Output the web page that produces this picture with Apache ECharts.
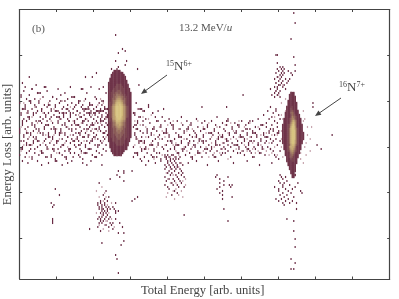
<!DOCTYPE html>
<html><head><meta charset="utf-8">
<script src="https://cdn.jsdelivr.net/npm/echarts@6/dist/echarts.min.js"></script>
<style>html,body{margin:0;padding:0;background:#fff}#c{width:399px;height:299px}</style></head>
<body><div id="c"></div>
<script>
const yTickValues = [20.5, 43.3, 66.1, 88.9, 111.7];
const xLabel = 'Total Energy [arb. units]';
const yLabel = 'Energy Loss [arb. units]';
const palette = ['#6a2c45','#6f3449','#7b4650','#8a5b57','#9a715f','#aa8666','#b99a6d','#c6ab74','#d0b97a','#d8c480'];

// Dense peak 15N: [energy-loss row, first energy channel, intensity digits]
const peak15 = [
[104,69,'11111'],[103,68,'11111111'],[102,67,'1111111111'],[101,67,'11111111111'],[100,66,'111111111111'],
[99,66,'1111111111111'],[98,65,'11111111111111'],[97,65,'111111222211111'],[96,65,'111112222221111'],[95,65,'1111222222221111'],
[94,65,'1112222332221111'],[93,65,'11222333332211111'],[92,65,'11223344433221111'],[91,65,'11223445544322111'],[90,65,'11233456654332111'],
[89,65,'11234567765432111'],[88,65,'12234678876432111'],[87,65,'12245788987542111'],[86,65,'12356899998653211'],[85,65,'12356899998653211'],
[84,65,'12356899998653211'],[83,65,'12356899998653211'],[82,65,'12356899998653211'],[81,65,'12356799997653211'],[80,65,'12256789987652111'],
[79,65,'12245688876542111'],[78,65,'11234577765432111'],[77,65,'11234566765432111'],[76,65,'11233456654332111'],[75,65,'11223345544322111'],
[74,65,'11223344443322111'],[73,65,'11223334433322111'],[72,65,'11222333333222111'],[71,65,'11222233332222111'],[70,65,'1112222332222111'],
[69,65,'1112222222221111'],[68,66,'11112222222111'],[67,66,'11111222221111'],[66,66,'1111111111111'],[65,67,'111111111111'],
[64,67,'1111111111'],[63,68,'11111111'],[62,69,'111111']
];
// Dense peak 16N
const peak16 = [
[93,198,'111'],[92,197,'1111'],[91,197,'11111'],[90,197,'11111'],[89,196,'111111'],[88,196,'1111111'],[87,196,'1111111'],
[86,195,'11112111'],[85,195,'11122111'],[84,195,'111232111'],[83,194,'1111343111'],[82,194,'11112432111'],[81,194,'11112543211'],
[80,193,'1111235532111'],[79,193,'1111236753111'],[78,193,'1111247863111'],[77,192,'111123589631111'],[76,192,'111123699731111'],
[75,192,'111124799742111'],[74,192,'111124799842111'],[73,192,'1111247998421111'],[72,192,'1111247998421111'],[71,192,'1111247998421111'],
[70,192,'1111247998421111'],[69,192,'111124799742111'],[68,192,'111124799742111'],[67,193,'1112368863211'],[66,193,'1112577752111'],
[65,193,'1112467642111'],[64,194,'11235653211'],[63,194,'11124542111'],[62,194,'1112343111'],[61,195,'112332111'],[60,195,'11122211'],
[59,195,'11112211'],[58,196,'1111111'],[57,196,'111111'],[56,197,'11111'],[55,197,'11111'],[54,198,'1111'],[53,198,'111'],[52,199,'111'],[51,199,'11']
];
// Isolated counts above and below the main band: [energy-loss row, energy channels...]
const outerHits = [
[133,200],[128,201],[122,70],[120,198],[115,75],[114,77],[113,72],[112,187,188],[111,200],[109,70,78],[108,188],[107,77,201],[106,72,190,192],[105,67,71,86,188,191,193],[104,189,192,196,201],
[103,56,73,187,191,193,198],[102,190,192,199],[101,7,48,53,188,191],[100,186,190,194,197],[99,189,192,196],[98,2,187,191,195],[97,12,87,189,193,190],[96,186,192,188],[95,183,188,194],[94,187,190],[93,186,189],[92,163,184,188],[91,186,190],
[88,214],[86,133,151,214],[72,228],[67,217],[65,220],
[54,72,82,76],[53,76],[52,71,144,190],[51,73,143,152,191,194],[50,66,146,192],[49,76,149,189,195],[48,146,190,193,203],[47,149,153,155,192,197],[46,146,154,192,201,186],[45,26,144,189,194,199],
[44,148,189,196,205],[43,146,192,198,206],[42,29,148,190,195],[41,86,155,193,200],[40,84,148,187,191,196],[39,82,189,194,199],[38,23,70,192,197,202],[37,25,193],[36,68,24],[35,69,149,202],[34,72],[33,70],
[32,120],[30,24,195],[29,24,152,200],[28,24,73],[27,67],[26,75],[25,51],[24,200],[23,72,76],[20,201],[19,76],[18,60],[17,74],[16,201],
[12,70],[10,198,71],[8,201],[5,198,200],[3,72]
];
// Short horizontal streaks and clumps inside the band: [energy-loss row, energy channels...]
const bandStreaks = [
[96,4,18,19,37,52,61],[95,9,28,45,46,58],[93,14,15,33,49,63],[91,1,24,38,39,55],[89,7,8,30,44,60,61],[87,11,21,22,41,51,52,94],
[85,3,4,16,34,35,47,48,49,62,63,64,88,89],[84,26,27,42,56,57,58,59,60,61,91,101],[83,12,18,31,32,37,50,51,54,55,83,84,97],[81,6,7,23,28,29,44,45,63,64,87,104,118],
[79,2,14,15,36,46,47,59,60,90,100,135,151,152,168],[77,9,19,20,33,41,42,52,53,84,85,111,112,143,159,160,176,177],[75,0,12,25,26,38,49,50,56,86,97,98,122,123,134,149,165,166,183],
[73,5,6,17,29,30,43,44,61,62,93,106,107,128,139,140,157,171,172,188],[71,10,21,22,35,46,47,54,55,85,101,117,118,129,147,148,162,163,179,180],
[69,3,13,14,27,28,39,40,52,88,89,110,111,124,133,134,152,168,169,185],[67,7,8,19,31,43,44,57,58,96,97,114,115,127,143,144,158,159,174],
[65,1,11,24,25,36,37,50,51,91,92,105,119,120,136,137,150,166,167,183],[63,5,16,17,29,40,47,48,85,86,100,116,130,131,148,161,176],
[61,9,20,33,34,44,55,56,97,98,125,126,142,143,170,171],[59,2,13,26,27,38,52,89,103,129,145,166],[58,6,21,35,46,99,123,156,184],[57,16,31,49,60,92,137,175]
];
// Main band, by energy channel: [energy channel, energy-loss rows...]
const bandDark = [
[0,88,74,73,62],[1,92,83,82,69],[2,85,78,77,66,65],[3,94,80,72,71],[4,87,86,75,61],[5,90,79,68,67],[6,84,83,76,70],[7,92,81,80,64],[8,88,73,72,65],[9,95,85,78,60],
[10,83,82,74,69,68],[11,90,77,76,63],[12,86,79,71,70],[13,93,84,66],[14,89,88,75,74,62],[15,81,73,67],[16,85,84,78,64,63],[17,91,80,72],[18,87,76,75,69],[19,82,81,70,61],
[20,94,86,79,66,65],[21,83,77,73,72],[22,89,80,68],[23,85,84,75,62,61],[24,91,78,71,70],[25,82,76,67,64],[26,87,86,74,73,60],[27,90,81,69,68],[28,84,79,78,65],[29,88,83,72,63],
[30,92,80,75,74,66],[31,85,77,70,62],[32,86,82,81,67],[33,89,78,73,72,64],[34,83,76,69,60],[35,90,87,80,71],[36,84,79,75,65,64],[37,82,81,68,63],[38,88,77,74,70],[39,85,83,72,61],
[40,91,86,79,78,67],[41,82,75,73,66],[42,84,80,71,70],[43,89,88,77,69,62],[44,83,76,72,65],[45,86,81,74,68,64],[46,87,85,79,78,60],[47,84,82,75,71],[48,90,80,73,67,66],[49,83,77,69,63],
[50,86,85,79,72,71],[51,88,82,76,68],[52,84,83,81,74,65],[53,87,78,70,69,62],[54,85,80,77,73],[55,83,82,75,67,61],[56,90,86,79,72,64],[57,84,81,78,70,66],[58,88,83,76,75,63],[59,85,80,74,69],
[60,87,82,81,77,68,62],[61,84,79,73,71,65],[62,86,85,80,76,70],[63,83,78,74,67,64],[64,82,81,77,72],
[83,76,66,61],[84,82,72,73,63],[85,88,75,70],[86,79,78,62],[87,85,69,68],[88,81,74,60],[89,71,65,64],[90,84,77,73],[91,69,68,61],[92,80,66],[93,75,74,63],[94,86,71,59],[95,78,67],[96,73,72,62],[97,83,69],[98,76,65,64],[99,81,70],
[100,74,61],[101,79,68,67],[102,72,63],[103,77,76,60],[104,70,66],[105,85,73],[106,79,62,61],[107,75,74,67],[108,69,64],[109,80,72,71],[110,65,78],[111,68,62],[112,76,75],[113,70,66,65],[114,73,60],[115,79,63],
[116,72,71,67],[117,75,61],[118,69,68],[119,77,64],[120,74,73],[121,66,62],[122,70,79],[123,76,68,67],[124,72,63],[125,65,78,77],[126,71,60],[127,74,69],[128,67,66],[129,80,72],[130,76,64,63],[131,70,69],
[132,74,66],[133,78,61],[134,72,71,68],[135,75,65],[136,69,63],[137,77,76],[138,73,67],[139,70,64],[140,79,66,65],[141,72,62],[142,75,74],[143,69,68],[144,81,64],[145,73,71,70],[146,76,67],[147,65,62],
[148,78,72,71],[149,68,66],[150,74,63],[151,77,70,69],[152,80,64,67],[153,73,72],[154,66,61],[155,76,75,68],[156,71,64],[157,78,67],[158,74,73],[159,69,63],[160,76,65,66],[161,72,71],[162,79,68],[163,74,64],
[164,70,69,62],[165,77,66],[166,73,72],[167,68,67,78],[168,75,64],[169,71,63],[170,79,74,73],[171,69,66],[172,76,65],[173,72,71],[174,80,68,67],[175,75,63],[176,70,69],[177,77,66,65],[178,82,73,72],[179,68,62],
[180,78,76,69],[181,84,71,66],[182,80,74,73],[183,86,70,65],[184,81,77,68],[185,83,75,74,64],[186,79,72,62],[187,85,84,70,61],[188,78,76,67],[189,82,74,73,60],[190,80,69,64]
];
const bandPale = [
[1,76,64],[3,88,67],[5,83,74],[7,71,61],[9,81,67],[11,86,70],[13,78,73],[15,90,64],[17,83,68],[19,77,72],[21,88,65],[23,79,69],[25,85,72],[27,75,63],[29,80,70],[31,89,73],[33,83,68],[35,76,66],[37,86,72],[39,79,69],[41,87,70],
[43,82,73],[45,78,63],[47,89,69],[49,80,74],[51,85,72],[53,82,75],[55,78,70],[57,87,74],[59,90,78],[61,88,69],[63,80,71],
[84,79,67],[86,85,70],[88,77,66],[90,81,68],[92,76,71],[94,80,65],[96,82,68],[98,72,60],[100,79,66],[102,76,70],[104,74,62],[106,71,67],[108,77,73],[110,69,61],[112,79,67],[114,68,64],[116,75,62],[118,78,65],
[120,70,66],[122,74,64],[124,77,68],[126,75,66],[128,71,62],[130,79,68],[132,70,63],[134,76,64],[136,73,66],[138,78,61],[140,71,68],[142,66,63],[144,76,70],[146,72,63],[148,68,65],[150,77,70],
[152,73,60],[154,78,70],[156,74,67],[158,70,65],[160,79,71],[162,74,64],[164,67,76],[166,70,64],[168,78,71],[170,68,65],[172,73,63],[174,76,64],[176,72,67],[178,77,65],[180,73,64],[182,68,62],[184,72,63],[186,81,66],[188,72,62],
[191,88,82,74,70,66],[192,97,80,61],[194,90,84],[187,98,94],[189,101,92],[206,74,69],[208,80,66],[210,76,72],[212,70,64],[205,63,60],[209,68,62],[207,84,79,58],[213,76]
];
// Lower groups, by energy channel
const lowerDark = [
[57,38,37,30,26],[58,48,36,35,31,28],[59,39,38,33,30,29,24],[60,37,36,35,34,31,28],[61,42,35,33,32,29],[62,40,38,37,34,30],[63,44,36,33,31,27],[64,39,35,34,32],[65,41,36,30,26],[66,35,31,28],[68,28,25],[70,34,30],
[106,57,55,51,47],[107,61,60,56,49],[108,62,59,58,53,46],[109,61,57,54,50,45],[110,60,59,56,52],[111,58,55,53,48,42],[112,62,60,57,50,47],[113,59,56,54,49,44],[114,61,58,55,52],[115,57,56,51,47,43],[116,60,53,50,46],[117,58,55,49],[118,54,52,48],[119,57,53],[120,51,46]
];
const lowerPale = [
[56,44,33],[58,41,27],[60,46,32],[61,39,25],[62,43,27],[63,41,29],[64,37,29],[65,33,24],[67,38,30],[69,26],
[107,53,41],[108,50,43],[110,55,48],[112,52,44],[113,61,40],[114,48,45],[116,56,42],[118,58,44],[119,49,41],[121,50,47]
];

function rowsToPoints(rows){const out=[];rows.forEach(r=>{for(let i=1;i<r.length;i++)out.push([r[i],r[0]]);});return out;}
function colsToPoints(cols){const out=[];cols.forEach(c=>{for(let i=1;i<c.length;i++)out.push([c[0],c[i]]);});return out;}
function cells(rows){const out=[];rows.forEach(r=>{[...r[2]].forEach((d,i)=>out.push([r[1]+i,r[0],+d]));});return out;}
function scatter(data,color,size){return {type:'scatter',data,symbol:'rect',symbolSize:size,silent:true,animation:false,
  itemStyle:{color,opacity:1},xAxisIndex:0,yAxisIndex:0};}

const ink='#444';
const serif='"Liberation Serif","Times New Roman",serif';
const sup=(n,s,x,y)=>({type:'text',left:x,top:y,silent:true,style:{
  text:'{a|'+n+'}{b|N}{a|'+s+'}',fill:'#444',font:'11px '+serif,
  rich:{a:{fontFamily:serif,fontSize:8,fill:'#444',verticalAlign:'top',padding:[0,0,5,0]},b:{fontFamily:serif,fontSize:13,fill:'#444'}}}});
const arrow=(x1,y1,x2,y2)=>{const L=Math.hypot(x2-x1,y2-y1),ux=(x2-x1)/L,uy=(y2-y1)/L,h=6,w=2.6;
 return [{type:'line',silent:true,shape:{x1,y1,x2:x2-ux*4,y2:y2-uy*4},style:{stroke:'#444',lineWidth:1}},
 {type:'polygon',silent:true,shape:{points:[[x2,y2],[x2-ux*h-uy*w,y2-uy*h+ux*w],[x2-ux*h+uy*w,y2-uy*h-ux*w]]},style:{fill:'#444'}}];};

const xAxisBase={type:'value',min:0,max:270,interval:27,axisLabel:{show:false},splitLine:{show:false},
  axisLine:{show:true,onZero:false,lineStyle:{color:ink,width:1.2}},axisTick:{show:true,inside:true,length:2.5,lineStyle:{color:ink,width:1}}};
const yAxisBase={type:'value',min:0,max:134.75,axisLabel:{show:false},splitLine:{show:false},
  axisLine:{show:true,onZero:false,lineStyle:{color:ink,width:1.2}},axisTick:{show:true,inside:true,length:2.5,customValues:yTickValues,lineStyle:{color:ink,width:1}}};

const chart=echarts.init(document.getElementById('c'),null,{renderer:'canvas'});
chart.setOption({
  animation:false,backgroundColor:'#fff',
  grid:{left:19.7,top:9.5,width:370,height:269.5},
  xAxis:[{...xAxisBase,position:'bottom'},{...xAxisBase,position:'top'}],
  yAxis:[{...yAxisBase,position:'left'},{...yAxisBase,position:'right'}],
  series:[
    scatter(colsToPoints(bandPale).concat(colsToPoints(lowerPale)),'#c7a5af',[1.2,2.1]),
    scatter(colsToPoints(bandDark).concat(colsToPoints(lowerDark)).concat(rowsToPoints(outerHits)).concat(rowsToPoints(bandStreaks)),'#6a2c45',[1.2,2.1]),
    scatter(cells(peak15),p=>palette[p.value[2]],[1.7,2.3]),
    scatter(cells(peak16),p=>palette[p.value[2]],[1.7,2.3])
  ],
  graphic:[
    {type:'text',left:32,top:24,silent:true,style:{text:'(b)',fill:'#555',font:'11px '+serif}},
    {type:'text',left:179,top:23,silent:true,style:{text:'{n|13.2 MeV/}{i|u}',fill:'#555',font:'11px '+serif,
      rich:{n:{fontFamily:serif,fontSize:11,fill:'#555'},i:{fontFamily:serif,fontSize:11,fontStyle:'italic',fill:'#555'}}}},
    sup('15','6+',166,60),
    sup('16','7+',339,81),
    ...arrow(167,75,141,94),
    ...arrow(341,98,315,116),
    {type:'text',left:141,top:284,silent:true,style:{text:xLabel,fill:'#444',font:'12.6px '+serif}},
    {type:'text',x:8,y:144.5,rotation:Math.PI/2,silent:true,style:{text:yLabel,fill:'#444',font:'12.6px '+serif,align:'center',verticalAlign:'middle'}}
  ]
});
</script></body></html>
